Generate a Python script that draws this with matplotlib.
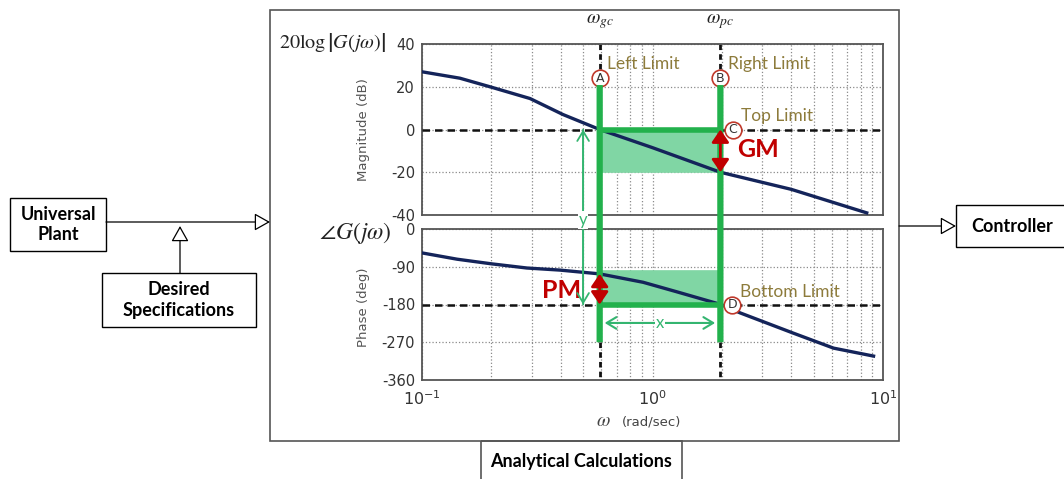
import matplotlib
matplotlib.use('Agg')
import matplotlib.pyplot as plt
from matplotlib.patches import Rectangle, ConnectionPatch, FancyArrowPatch
import numpy as np

# Bode data (frequency in rad/s)
mag_w = [0.1, 0.146, 0.197, 0.294, 0.409, 0.59, 1.0, 1.97, 4.0, 8.5]
mag_db = [27, 24, 20, 14.5, 7, 0, -8.5, -20, -28, -39]
ph_w = [0.1, 0.142, 0.2, 0.285, 0.397, 0.59, 0.91, 1.28, 1.98, 2.4, 4.07, 6.1, 9.1]
ph_deg = [-57, -72, -83, -93, -98, -107, -127, -150, -180, -200, -248, -284, -303]

w_gc = 0.59          # gain crossover
w_pc = 1.97          # phase crossover
gain_margin = 20     # dB
phase_margin = 73    # deg
phase_band_top = -100

mag_ticks = [40, 20, 0, -20, -40]
ph_ticks = [0, -90, -180, -270, -360]

W, H = 1064, 479
GREEN = '#22b14c'
GREEN_FILL = '#80d6a4'
GREEN_THIN = '#34b570'
RED = '#c00000'
OLIVE = '#8d7b3b'
NAVY = '#14245a'


def px_rect(x0, y0, x1, y1):
    return [x0 / W, 1 - y1 / H, (x1 - x0) / W, (y1 - y0) / H]


fig = plt.figure(figsize=(W / 100, H / 100), dpi=100)
fig.patch.set_facecolor('white')

# background layer for the block diagram (pixel coordinates)
ax_bg = fig.add_axes([0, 0, 1, 1], zorder=-1)
ax_bg.set_xlim(0, W)
ax_bg.set_ylim(H, 0)
ax_bg.axis('off')

box_font = dict(family='Lato', weight='bold', fontsize=13, color='black',
                ha='center', va='center', linespacing=1.25)

ax_bg.add_patch(Rectangle((270, 10), 629, 431, fill=False, ec='#555555', lw=1.2))
ax_bg.add_patch(Rectangle((10, 198), 96, 53, fill=False, ec='black', lw=1))
ax_bg.text(58, 224.5, 'Universal\nPlant', **box_font)
ax_bg.add_patch(Rectangle((102, 273), 154, 54, fill=False, ec='black', lw=1))
ax_bg.text(179, 300, 'Desired\nSpecifications', **box_font)
ax_bg.add_patch(Rectangle((956, 205), 130, 42, fill=False, ec='black', lw=1))
ax_bg.text(1012, 226, 'Controller', **box_font)
ax_bg.add_patch(Rectangle((481, 441), 201, 60, fill=False, ec='#555555', lw=1.2))
ax_bg.text(581, 462, 'Analytical Calculations', **box_font)

for start, end in [((106, 222), (270, 222)), ((180, 273), (180, 226)),
                   ((899, 226), (956, 226))]:
    ax_bg.add_patch(FancyArrowPatch(start, end, arrowstyle='-|>,head_length=0.8,head_width=0.45',
                                    mutation_scale=12, fc='white', ec='black', lw=0.9,
                                    shrinkA=0, shrinkB=0))

ax_bg.text(279, 42, r'$20\log\left|G(j\omega)\right|$', math_fontfamily='stix',
           fontsize=14.5, ha='left', va='center', color='#222222')
ax_bg.text(392, 233, r'$\angle G(j\omega)$', math_fontfamily='stix',
           fontsize=17, ha='right', va='center', color='#222222')
ax_bg.text(364, 130, 'Magnitude (dB)', rotation=90, ha='center', va='center',
           fontsize=9.5, color='#555555')
ax_bg.text(364, 307, 'Phase (deg)', rotation=90, ha='center', va='center',
           fontsize=9.5, color='#555555')
ax_bg.text(603, 421, r'$\omega$', math_fontfamily='stix', fontsize=14,
           ha='center', va='center', color='#444444')
ax_bg.text(652, 422, '(rad/sec)', fontsize=9.5, ha='center', va='center', color='#444444')

# Bode axes
ax_mag = fig.add_axes(px_rect(422, 44, 883, 215))
ax_ph = fig.add_axes(px_rect(422, 229, 883, 380))

for ax, ticks in [(ax_mag, mag_ticks), (ax_ph, ph_ticks)]:
    ax.set_xscale('log')
    ax.set_xlim(0.1, 10)
    ax.set_ylim(min(ticks), max(ticks))
    ax.set_yticks(ticks)
    ax.set_yticklabels([str(t) for t in ticks])
    ax.grid(True, which='both', axis='x', ls=':', color='#8a8a8a', lw=0.9)
    ax.grid(True, which='major', axis='y', ls=':', color='#8a8a8a', lw=0.9)
    ax.tick_params(which='both', length=0, labelsize=10.5, labelcolor='#333333', pad=5)
    for sp in ax.spines.values():
        sp.set_color('#555555')
        sp.set_linewidth(1.3)

ax_mag.set_xticklabels([])
ax_mag.tick_params(axis='x', which='both', labelbottom=False)
ax_ph.set_xticks([0.1, 1, 10])
ax_ph.set_xticklabels([r'$10^{-1}$', r'$10^{0}$', r'$10^{1}$'])
ax_ph.tick_params(axis='x', labelsize=11.5, pad=7)

# response curves
ax_mag.plot(mag_w, mag_db, color=NAVY, lw=2.4, zorder=4)
ax_ph.plot(ph_w, ph_deg, color=NAVY, lw=2.4, zorder=4)

# reference levels
ax_mag.axhline(0, color='#111111', ls=(0, (3, 2)), lw=1.8, zorder=3)
ax_ph.axhline(-180, color='#111111', ls=(0, (3, 2)), lw=1.8, zorder=3)

# margin regions
ax_mag.fill_between([w_gc, w_pc], -gain_margin, 0, color=GREEN_FILL, lw=0, zorder=2)
ax_mag.plot([w_gc, w_pc], [-gain_margin, -gain_margin], color=GREEN_FILL, lw=1.2, zorder=2)
ax_mag.plot([w_gc, w_pc], [0, 0], color=GREEN, lw=4, zorder=5, solid_capstyle='butt')
ax_ph.fill_between([w_gc, w_pc], -180, phase_band_top, color=GREEN_FILL, lw=0, zorder=2)
ax_ph.plot([w_gc, w_pc], [phase_band_top, phase_band_top], color=GREEN_FILL, lw=1.2, zorder=2)
ax_ph.plot([w_gc, w_pc], [-180, -180], color=GREEN, lw=4, zorder=5, solid_capstyle='butt')

# crossover markers above and below the plots
for w, name in [(w_gc, r'$\omega_{gc}$'), (w_pc, r'$\omega_{pc}$')]:
    ax_mag.plot([w, w], [40, 28], color='#111111', ls=(0, (2, 1.5)), lw=2, clip_on=False)
    ax_ph.plot([w, w], [-270, -360], color='#111111', ls=(0, (2, 1.5)), lw=2, clip_on=False)
    ax_mag.text(w, 50.5, name, math_fontfamily='stix', fontsize=14, ha='center',
                va='center', color='#222222', clip_on=False)
    fig.add_artist(ConnectionPatch(xyA=(w, 20.8), coordsA=ax_mag.transData,
                                   xyB=(w, -270), coordsB=ax_ph.transData,
                                   color=GREEN, lw=4.5, zorder=2, capstyle='butt'))

# limit points
points = [(ax_mag, w_gc, 24, 'A'), (ax_mag, w_pc, 24, 'B'),
          (ax_mag, 2.23, 0, 'C'), (ax_ph, 2.22, -180, 'D')]
for ax, w, v, letter in points:
    ax.plot([w], [v], 'o', ms=12, mfc='white', mec='#c0392b', mew=1.2,
            zorder=6, clip_on=False)
    ax.text(w, v, letter, fontsize=9, ha='center', va='center', color='#333333',
            zorder=7, clip_on=False)

lim_font = dict(family='Lato', fontsize=12.5, color=OLIVE, ha='left', va='center', zorder=7)
ax_mag.text(0.635, 30.5, 'Left Limit', **lim_font)
ax_mag.text(2.13, 30.5, 'Right Limit', **lim_font)
ax_mag.text(2.42, 6.5, 'Top Limit', **lim_font)
ax_ph.text(2.4, -150, 'Bottom Limit', **lim_font)

# gain and phase margin arrows
margin_style = '<|-|>,head_length=0.38,head_width=0.26'
gm_arrow = ConnectionPatch(xyA=(w_pc, 0), coordsA=ax_mag.transData,
                           xyB=(w_pc, -gain_margin), coordsB=ax_mag.transData,
                           arrowstyle=margin_style, mutation_scale=20, color=RED,
                           lw=2, zorder=4, shrinkA=0, shrinkB=0)
fig.add_artist(gm_arrow)
pm_arrow = ConnectionPatch(xyA=(w_gc, -180 + phase_margin), coordsA=ax_ph.transData,
                           xyB=(w_gc, -180), coordsB=ax_ph.transData,
                           arrowstyle=margin_style, mutation_scale=20, color=RED,
                           lw=2, zorder=4, shrinkA=0, shrinkB=0)
fig.add_artist(pm_arrow)
ax_mag.text(2.33, -9.5, 'GM', family='Lato', weight='bold', fontsize=18,
            color=RED, ha='left', va='center', zorder=7)
ax_ph.text(0.49, -146, 'PM', family='Lato', weight='bold', fontsize=18,
           color=RED, ha='right', va='center', zorder=7)

# x / y distance arrows
fig.add_artist(ConnectionPatch(xyA=(0.5, -180), coordsA=ax_ph.transData,
                               xyB=(0.5, 0), coordsB=ax_mag.transData,
                               arrowstyle='->,head_length=0.5,head_width=0.3',
                               mutation_scale=14, color=GREEN_THIN, lw=1.3, zorder=2))
fig.add_artist(ConnectionPatch(xyA=(0.5, 0), coordsA=ax_mag.transData,
                               xyB=(0.5, -180), coordsB=ax_ph.transData,
                               arrowstyle='->,head_length=0.5,head_width=0.3',
                               mutation_scale=14, color=GREEN_THIN, lw=1.3, zorder=2))
fig.text(583 / W, 1 - 220 / H, 'y', family='Lato', fontsize=12, color=GREEN_THIN,
         ha='center', va='center', zorder=3,
         bbox=dict(fc='white', ec='none', pad=0.6))
ax_ph.annotate('', xy=(1.87, -224), xytext=(0.62, -224),
               arrowprops=dict(arrowstyle='<->,head_length=0.5,head_width=0.3',
                               color=GREEN_THIN, lw=1.5, mutation_scale=14,
                               shrinkA=0, shrinkB=0), zorder=5)
ax_ph.text(1.08, -224, 'x', family='Lato', fontsize=12, color=GREEN_THIN,
           ha='center', va='center', zorder=6,
           bbox=dict(fc='white', ec='none', pad=0.5))

fig.savefig('out.png', dpi=100, facecolor='white')
